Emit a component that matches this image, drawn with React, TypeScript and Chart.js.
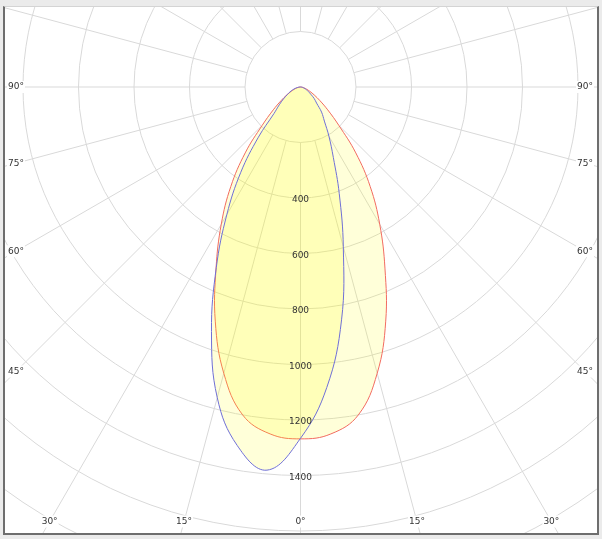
import React, { useEffect, useRef } from "react";
import { Chart, registerables } from "chart.js";

Chart.register(...registerables);

// Angles from nadir (degrees), negative = left half of the diagram
const ANGLES = [
  -90, -85, -80, -75, -70, -65, -60, -55, -50, -45, -40, -35, -30, -25, -20, -15, -10, -5,
  0, 5, 10, 15, 20, 25, 30, 35, 40, 45, 50, 55, 60, 65, 70, 75, 80, 85, 90,
];

// C0-C180 plane intensities (cd), red curve
const C0_C180 = [
  0, 3, 8, 15, 24, 37, 57, 85, 128, 195, 310, 438, 571, 720, 898, 1068, 1200, 1255,
  1268, 1255, 1200, 1068, 898, 720, 571, 438, 310, 195, 128, 85, 57, 37, 24, 15, 8, 3, 0,
];

// C90-C270 plane intensities (cd), blue curve
const C90_C270 = [
  0, 5, 12, 20, 30, 42, 55, 75, 100, 135, 236, 375, 531, 718, 938, 1159, 1312, 1386,
  1266, 1087, 852, 596, 408, 280, 205, 150, 118, 82, 64, 45, 33, 24, 17, 11, 7, 3, 0,
];

const INTENSITY_TICKS = [400, 600, 800, 1000, 1200, 1400];
const ANGLE_TICKS = [-90, -75, -60, -45, -30, -15, 0, 15, 30, 45, 60, 75, 90];

const RING_STEP = 200;
const RING_MAX = 2600;
const RADIAL_STEP = 15;

const W = 592;
const H = 526;
const PX_PER_CD = 55.5 / 200;
const CENTER_X = 295.5;
const CENTER_Y = 80;

const GRID_COLOR = "#d9d9d9";
const TEXT_COLOR = "#333333";
const FONT = "9px 'DejaVu Sans'";

const toXY = (deg: number, r: number) => {
  const a = (deg * Math.PI) / 180;
  return { x: r * Math.sin(a), y: -r * Math.cos(a) };
};

const polarGrid = {
  id: "polarGrid",
  beforeDatasetsDraw(chart: any) {
    const { ctx, chartArea, scales } = chart;
    const sx = scales.x;
    const sy = scales.y;
    const cx = sx.getPixelForValue(0);
    const cy = sy.getPixelForValue(0);
    ctx.save();
    ctx.beginPath();
    ctx.rect(chartArea.left, chartArea.top, chartArea.right - chartArea.left, chartArea.bottom - chartArea.top);
    ctx.clip();
    ctx.strokeStyle = GRID_COLOR;
    ctx.lineWidth = 1;
    for (let a = 0; a < 360; a += RADIAL_STEP) {
      const p0 = toXY(a, RING_STEP);
      const p1 = toXY(a, RING_MAX);
      ctx.beginPath();
      ctx.moveTo(sx.getPixelForValue(p0.x), sy.getPixelForValue(p0.y));
      ctx.lineTo(sx.getPixelForValue(p1.x), sy.getPixelForValue(p1.y));
      ctx.stroke();
    }
    for (let v = RING_STEP; v <= RING_MAX; v += RING_STEP) {
      const rad = sx.getPixelForValue(v) - cx;
      ctx.beginPath();
      ctx.arc(cx, cy, rad, 0, Math.PI * 2);
      ctx.stroke();
    }
    ctx.restore();
  },
  afterDatasetsDraw(chart: any) {
    const { ctx, chartArea, scales } = chart;
    const sx = scales.x;
    const sy = scales.y;
    const cx = sx.getPixelForValue(0);
    const cy = sy.getPixelForValue(0);
    ctx.save();
    ctx.font = FONT;
    ctx.textAlign = "center";
    ctx.textBaseline = "middle";
    ctx.fillStyle = TEXT_COLOR;
    for (const v of INTENSITY_TICKS) {
      ctx.fillText(String(v), cx, sy.getPixelForValue(-v) + 2);
    }
    const leftX = chartArea.left + 11;
    const rightX = chartArea.right - 12;
    const bottomY = chartArea.bottom - 11.5;
    for (const a of ANGLE_TICKS) {
      const rad = (a * Math.PI) / 180;
      const s = Math.sin(rad);
      const c = Math.cos(rad);
      let px = 0;
      let py = 0;
      let placed = false;
      if (c > 1e-6) {
        const t = (bottomY - cy) / c;
        px = cx + t * s;
        py = bottomY;
        if (px >= leftX && px <= rightX) placed = true;
      }
      if (!placed) {
        const side = s < 0 ? leftX : rightX;
        const t = (side - cx) / s;
        px = side;
        py = cy + t * c;
      }
      const txt = `${Math.abs(a)}°`;
      const w = ctx.measureText(txt).width + 2;
      ctx.fillStyle = "#ffffff";
      ctx.fillRect(px - w / 2, py - 6, w, 12);
      ctx.fillStyle = TEXT_COLOR;
      ctx.fillText(txt, px, py);
    }
    ctx.restore();
  },
};

export default function App() {
  const ref = useRef<HTMLCanvasElement | null>(null);

  useEffect(() => {
    if (!ref.current) return;
    const chart = new Chart(ref.current, {
      type: "scatter",
      data: {
        datasets: [
          {
            label: "C90-C270",
            data: ANGLES.map((a, i) => toXY(a, C90_C270[i])),
            showLine: true,
            pointRadius: 0,
            borderColor: "#6f6fd6",
            borderWidth: 1,
            backgroundColor: "rgba(255,255,0,0.15)",
            fill: "shape",
            tension: 0.4,
          } as any,
          {
            label: "C0-C180",
            data: ANGLES.map((a, i) => toXY(a, C0_C180[i])),
            showLine: true,
            pointRadius: 0,
            borderColor: "#f26b60",
            borderWidth: 1,
            backgroundColor: "rgba(255,255,0,0.15)",
            fill: "shape",
            tension: 0.4,
          } as any,
        ],
      },
      options: {
        animation: false,
        responsive: false,
        maintainAspectRatio: false,
        devicePixelRatio: 1,
        events: [],
        layout: { padding: 0 },
        plugins: { legend: { display: false }, tooltip: { enabled: false } },
        scales: {
          x: {
            type: "linear",
            display: false,
            min: -CENTER_X / PX_PER_CD,
            max: (W - CENTER_X) / PX_PER_CD,
          },
          y: {
            type: "linear",
            display: false,
            min: -(H - CENTER_Y) / PX_PER_CD,
            max: CENTER_Y / PX_PER_CD,
          },
        },
      },
      plugins: [polarGrid],
    });
    return () => chart.destroy();
  }, []);

  return (
    <div style={{ position: "fixed", left: 0, top: 0, width: 602, height: 539, background: "#ebebeb" }}>
      <div
        style={{
          position: "absolute",
          left: 3,
          top: 6,
          width: W,
          height: H,
          background: "#ffffff",
          borderLeft: "2px solid #6e6e6e",
          borderRight: "2px solid #6e6e6e",
          borderBottom: "2px solid #6e6e6e",
          borderTop: "1px solid #d4d4d4",
        }}
      >
        <canvas ref={ref} width={W} height={H} style={{ display: "block", width: W, height: H }} />
      </div>
    </div>
  );
}
